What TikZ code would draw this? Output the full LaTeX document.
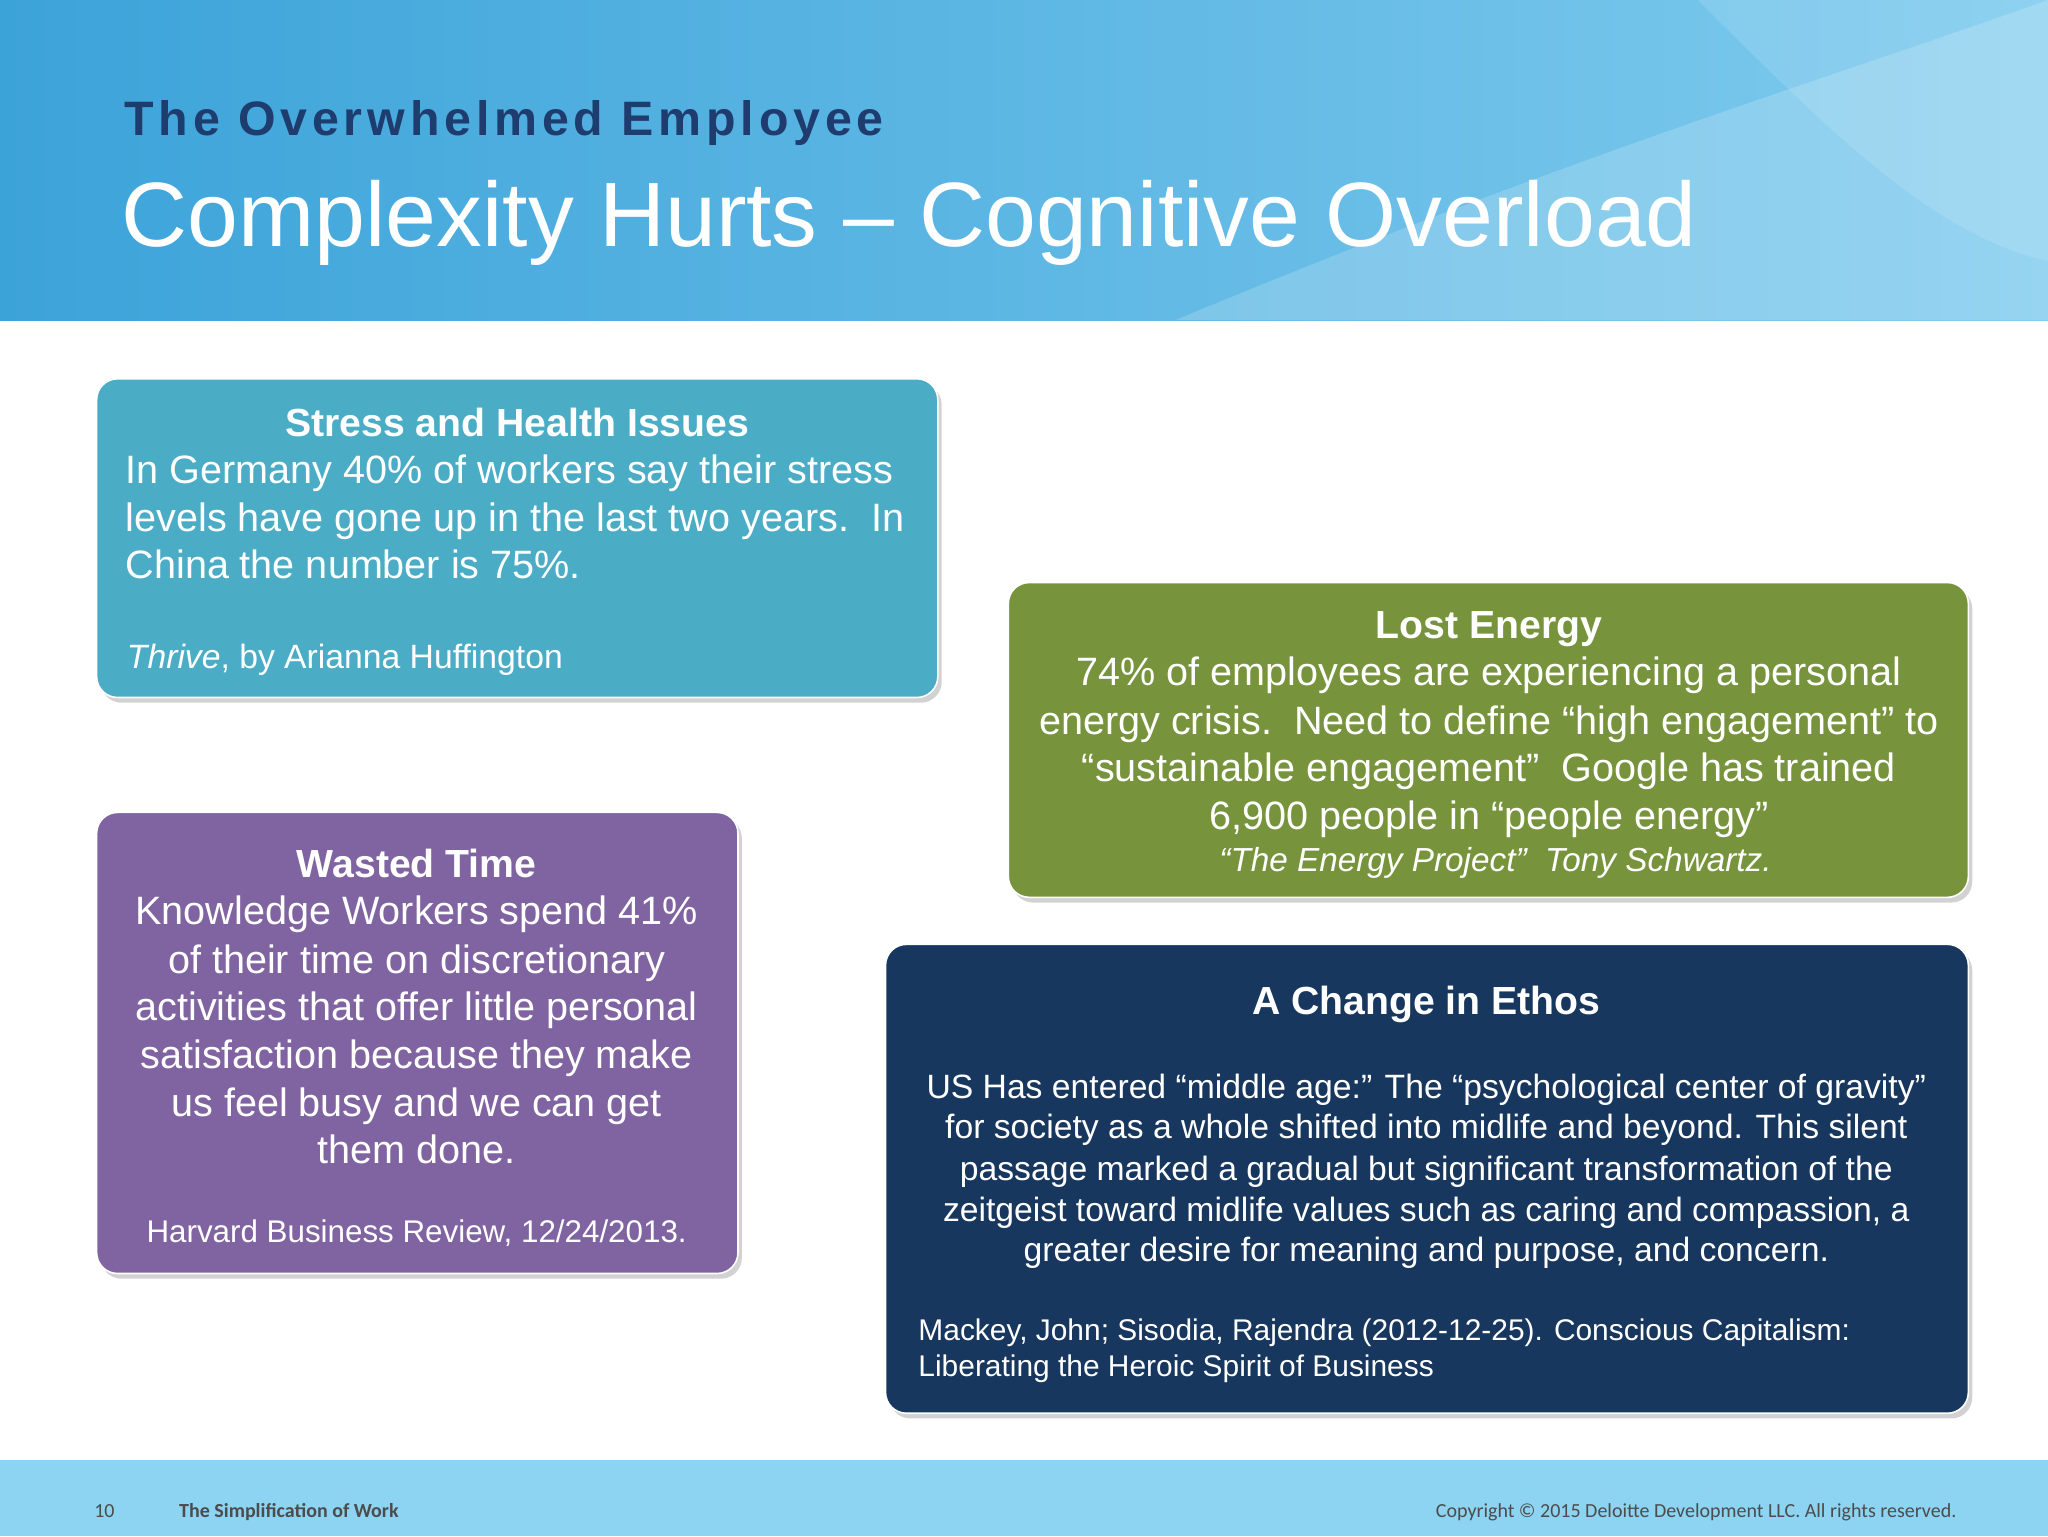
\documentclass[tikz,border=0pt]{standalone}
\usepackage{fontspec}
\setmainfont{Liberation Sans}
\newfontfamily\foot{Carlito}
\usetikzlibrary{shadows}
\definecolor{cA}{HTML}{4BACC6}
\definecolor{cB}{HTML}{77933C}
\definecolor{cC}{HTML}{8064A2}
\definecolor{cD}{HTML}{17375E}
\definecolor{navy}{HTML}{1F3C6E}
\definecolor{hL}{HTML}{3CA3D9}
\definecolor{hR}{HTML}{7FCBEE}
\definecolor{fb}{HTML}{8DD3F2}
\tikzset{
 card/.style={draw=white,line width=1.2pt,rounded corners=16pt,drop shadow={shadow xshift=3pt,shadow yshift=-4pt,opacity=0.35}},
 ln/.style={anchor=base,inner sep=0,text=white,font=\fontsize{30.3}{35}\selectfont},
 lnw/.style={ln,anchor=base west},
 hd/.style={ln,font=\fontsize{30}{35}\selectfont\bfseries},
 sm/.style={ln,font=\fontsize{25.8}{30}\selectfont},
 smw/.style={sm,anchor=base west},
 ft/.style={anchor=base,inner sep=0,text=black!70,font=\foot\fontsize{15.3}{17}\selectfont}
}
\begin{document}
\begin{tikzpicture}[x=1pt,y=-1pt]
\useasboundingbox (0,0) rectangle (1568,1176);
\fill[white] (0,0) rectangle (1568,1176);
\shade[left color=hL,right color=hR] (0,0) rectangle (1568,245);
\fill[white,opacity=0.18] (900,245) .. controls (1200,120) and (1400,60) .. (1568,0) -- (1568,245) -- cycle;
\fill[white,opacity=0.12] (1300,0) .. controls (1400,100) and (1480,180) .. (1568,200) -- (1568,0) -- cycle;
\fill[fb] (0,1118) rectangle (1568,1176);
\node[anchor=base west,inner sep=0,text=navy,font=\fontsize{37}{40}\selectfont\bfseries\addfontfeature{LetterSpace=10}] (sub) at (95,104) {The Overwhelmed Employee};
\node[anchor=base west,inner sep=0,text=white,font=\fontsize{70}{76}\selectfont] (ttl) at (93,189) {Complexity Hurts – Cognitive Overload};
% Box 1
\path[card,fill=cA] (74,290) rectangle (718,534);
\node[hd] (a0) at (396,334) {Stress and Health Issues};
\node[lnw] (a1) at (96,370) {In Germany 40\% of workers say their stress};
\node[lnw] (a2) at (96,407) {levels have gone up in the last two years.\ \ In};
\node[lnw] (a3) at (96,443) {China the number is 75\%.};
\node[smw] (a4) at (97,512) {\itshape Thrive\upshape, by Arianna Huffington};
% Box 2
\path[card,fill=cB] (772,446) rectangle (1507,687);
\node[hd] (b0) at (1140,489) {Lost Energy};
\node[ln] (b1) at (1140,525) {74\% of employees are experiencing a personal};
\node[ln] (b2) at (1140,562) {energy crisis.\ \ Need to define “high engagement” to};
\node[ln] (b3) at (1140,598) {“sustainable engagement”\ \ Google has trained};
\node[ln] (b4) at (1140,635) {6,900 people in “people energy”};
\node[sm,font=\fontsize{25.5}{30}\selectfont\itshape] (b5) at (1145,667) {“The Energy Project”\ \ Tony Schwartz.};
% Box 3
\path[card,fill=cC] (74,622) rectangle (565,975);
\node[hd] (c0) at (319,672) {Wasted Time};
\node[ln] (c1) at (319,708) {Knowledge Workers spend 41\%};
\node[ln] (c2) at (319,745) {of their time on discretionary};
\node[ln] (c3) at (319,781) {activities that offer little personal};
\node[ln] (c4) at (319,818) {satisfaction because they make};
\node[ln] (c5) at (319,855) {us feel busy and we can get};
\node[ln] (c6) at (319,891) {them done.};
\node[sm,font=\fontsize{24}{30}\selectfont] (c7) at (319,951) {Harvard Business Review, 12/24/2013.};
% Box 4
\path[card,fill=cD] (678,723) rectangle (1507,1082);
\node[hd] (d0) at (1092,777) {A Change in Ethos};
\node[sm] (d1) at (1092,841) {US Has entered “middle age:” The “psychological center of gravity”};
\node[sm] (d2) at (1092,872) {for society as a whole shifted into midlife and beyond. This silent};
\node[sm] (d3) at (1092,904) {passage marked a gradual but significant transformation of the};
\node[sm] (d4) at (1092,935) {zeitgeist toward midlife values such as caring and compassion, a};
\node[sm] (d5) at (1092,966) {greater desire for meaning and purpose, and concern.};
\node[smw,font=\fontsize{22.9}{26}\selectfont] (d6) at (703,1026) {Mackey, John; Sisodia, Rajendra (2012-12-25). Conscious Capitalism:};
\node[smw,font=\fontsize{22.9}{26}\selectfont] (d7) at (703,1054) {Liberating the Heroic Spirit of Business};
% footer
\node[ft,anchor=base west] (f1) at (72,1162) {10};
\node[ft,anchor=base west,font=\foot\fontsize{15.3}{17}\selectfont\bfseries] (f2) at (137,1162) {The Simplification of Work};
\node[ft,anchor=base east] (f3) at (1498,1162) {Copyright © 2015 Deloitte Development LLC. All rights reserved.};
\end{tikzpicture}
\end{document}
